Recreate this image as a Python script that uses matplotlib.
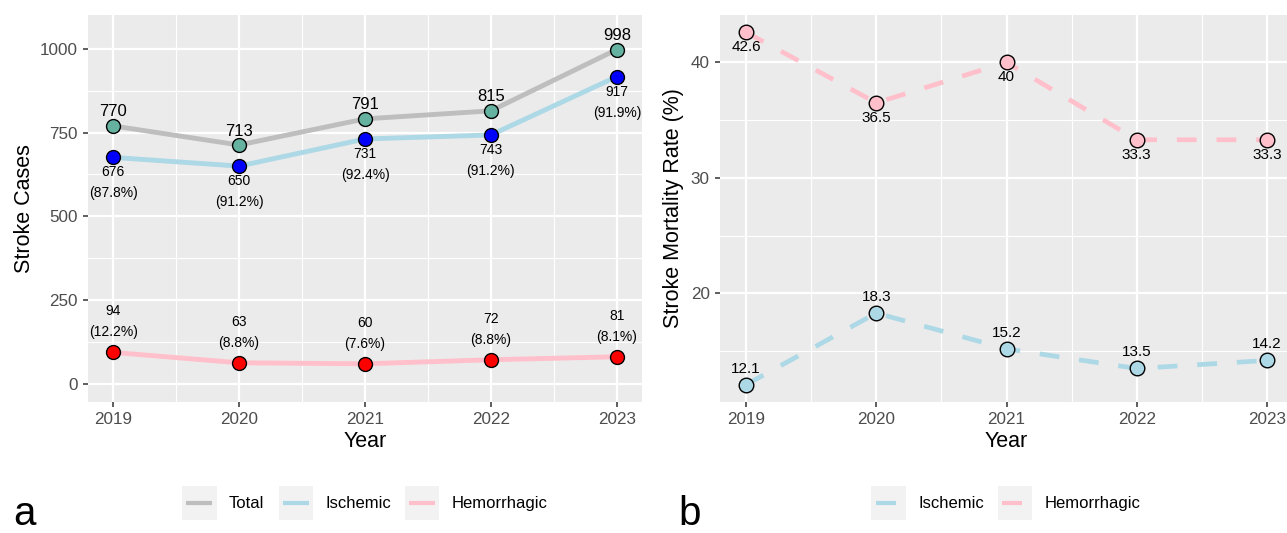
import matplotlib
matplotlib.use("Agg")
import matplotlib.pyplot as plt
from matplotlib.lines import Line2D
from matplotlib.patches import Rectangle
from matplotlib.legend_handler import HandlerBase
from matplotlib.ticker import MultipleLocator

plt.rcParams['font.family'] = ['Liberation Sans', 'DejaVu Sans']

# data
years = [2019, 2020, 2021, 2022, 2023]
total = [770, 713, 791, 815, 998]
ischemic = [676, 650, 731, 743, 917]
ischemic_pct = ['87.8%', '91.2%', '92.4%', '91.2%', '91.9%']
hemorrhagic = [94, 63, 60, 72, 81]
hemorrhagic_pct = ['12.2%', '8.8%', '7.6%', '8.8%', '8.1%']

mort_ischemic = [12.1, 18.3, 15.2, 13.5, 14.2]
mort_hemorrhagic = [42.6, 36.5, 40, 33.3, 33.3]

# colours
c_total_line, c_total_pt = '#BEBEBE', '#66B2A0'
c_isch_line, c_isch_pt = '#ADD8E6', '#0000FF'
c_hem_line, c_hem_pt = '#FFC0CB', '#FF0000'

W, H = 1287, 533
fig = plt.figure(figsize=(W / 100, H / 100), dpi=100)
ax1 = fig.add_axes([88 / W, 131 / H, 554 / W, 387 / H])
ax2 = fig.add_axes([720 / W, 131 / H, 573 / W, 387 / H])


def style(ax):
    ax.set_facecolor('#EBEBEB')
    for s in ax.spines.values():
        s.set_visible(False)
    ax.grid(which='major', color='white', lw=1.6)
    ax.grid(which='minor', color='white', lw=0.8)
    ax.set_axisbelow(True)
    ax.tick_params(which='major', length=3.6, width=1.1, color='#333333',
                   labelcolor='#4D4D4D', labelsize=12.3, pad=3.8)
    ax.tick_params(which='minor', length=0)
    ax.set_xticks(years)
    ax.xaxis.set_minor_locator(MultipleLocator(0.5))
    ax.set_xlim(2018.8, 2023.2)


# ---- panel a
style(ax1)
ax1.plot(years, total, color=c_total_line, lw=3.5, solid_capstyle='butt', zorder=2)
ax1.plot(years, ischemic, color=c_isch_line, lw=3.5, solid_capstyle='butt', zorder=2)
ax1.plot(years, hemorrhagic, color=c_hem_line, lw=3.5, solid_capstyle='butt', zorder=2)
for vals, fc in [(total, c_total_pt), (ischemic, c_isch_pt), (hemorrhagic, c_hem_pt)]:
    ax1.plot(years, vals, ls='none', marker='o', ms=10, mfc=fc, mec='black',
             mew=1.0, zorder=3)

for x, t in zip(years, total):
    ax1.annotate(str(t), (x, t), xytext=(0, 14), textcoords='offset pixels',
                 ha='center', va='center', fontsize=12)
for x, v, p in zip(years, ischemic, ischemic_pct):
    ax1.annotate(str(v), (x, v), xytext=(0, -15), textcoords='offset pixels',
                 ha='center', va='center', fontsize=10)
    ax1.annotate('(' + p + ')', (x, v), xytext=(0, -36), textcoords='offset pixels',
                 ha='center', va='center', fontsize=10)
for x, v, p in zip(years, hemorrhagic, hemorrhagic_pct):
    ax1.annotate(str(v), (x, v), xytext=(0, 41), textcoords='offset pixels',
                 ha='center', va='center', fontsize=10)
    ax1.annotate('(' + p + ')', (x, v), xytext=(0, 20), textcoords='offset pixels',
                 ha='center', va='center', fontsize=10)

ax1.set_ylim(-54, 1101)
ax1.set_yticks([0, 250, 500, 750, 1000])
ax1.yaxis.set_minor_locator(MultipleLocator(125))
ax1.set_ylabel('Stroke Cases', fontsize=15.5, va='center')
ax1.yaxis.set_label_coords(-0.115, 0.5)
ax1.set_xlabel('Year', fontsize=15.5, va='center')
ax1.xaxis.set_label_coords(0.5, -0.101)

# ---- panel b
style(ax2)
dash = (4.2, 4.2)
ax2.plot(years, mort_ischemic, color=c_isch_line, lw=3.4, dashes=dash, zorder=2)
ax2.plot(years, mort_hemorrhagic, color=c_hem_line, lw=3.4, dashes=dash, zorder=2)
ax2.plot(years, mort_ischemic, ls='none', marker='o', ms=10.5, mfc=c_isch_line,
         mec='black', mew=1.0, zorder=3)
ax2.plot(years, mort_hemorrhagic, ls='none', marker='o', ms=10.5, mfc=c_hem_line,
         mec='black', mew=1.0, zorder=3)
for x, v in zip(years, mort_ischemic):
    ax2.annotate(f'{v:g}', (x, v), xytext=(0, 16), textcoords='offset pixels',
                 ha='center', va='center', fontsize=11)
for x, v in zip(years, mort_hemorrhagic):
    ax2.annotate(f'{v:g}', (x, v), xytext=(0, -15), textcoords='offset pixels',
                 ha='center', va='center', fontsize=11)

ax2.set_ylim(10.6, 44.1)
ax2.set_yticks([20, 30, 40])
ax2.yaxis.set_minor_locator(MultipleLocator(5))
ax2.set_ylabel('Stroke Mortality Rate (%)', fontsize=15.5, va='center')
ax2.yaxis.set_label_coords(-0.082, 0.5)
ax2.set_xlabel('Year', fontsize=15.5, va='center')
ax2.xaxis.set_label_coords(0.5, -0.101)


# ---- legends (ggplot-like grey key boxes)
class KeyHandler(HandlerBase):
    def create_artists(self, legend, orig_handle, xdescent, ydescent,
                       width, height, fontsize, trans):
        bg = Rectangle((-xdescent, -ydescent), width, height,
                       facecolor='#F2F2F2', edgecolor='none', transform=trans)
        y = -ydescent + height / 2
        x0 = -xdescent + 0.12 * width
        x1 = -xdescent + 0.88 * width
        ln = Line2D([x0, x1], [y, y], color=orig_handle.get_color(),
                    lw=orig_handle.get_linewidth(), solid_capstyle='butt',
                    transform=trans)
        if orig_handle.get_linestyle() != '-':
            ln.set_dashes((4.8, 4.8))
        return [bg, ln]


def key(color, dashed=False):
    return Line2D([], [], color=color, lw=3, ls='--' if dashed else '-')


leg_kw = dict(loc='center', ncol=3, frameon=False, fontsize=12,
              handlelength=2.05, handleheight=2.75, handletextpad=0.75,
              columnspacing=0.85, borderpad=0, borderaxespad=0,
              handler_map={Line2D: KeyHandler()})
ax1.legend([key(c_total_line), key(c_isch_line), key(c_hem_line)],
           ['Total', 'Ischemic', 'Hemorrhagic'],
           bbox_to_anchor=(0.5, -0.261), **leg_kw)
ax2.legend([key(c_isch_line, True), key(c_hem_line, True)],
           ['Ischemic', 'Hemorrhagic'],
           bbox_to_anchor=((1006 - 720) / 573, -0.261), **leg_kw)

fig.text(13 / W, 8 / H, 'a', fontsize=29, va='baseline', ha='left')
fig.text(678 / W, 8 / H, 'b', fontsize=29, va='baseline', ha='left')

fig.savefig('out.png', dpi=100)
